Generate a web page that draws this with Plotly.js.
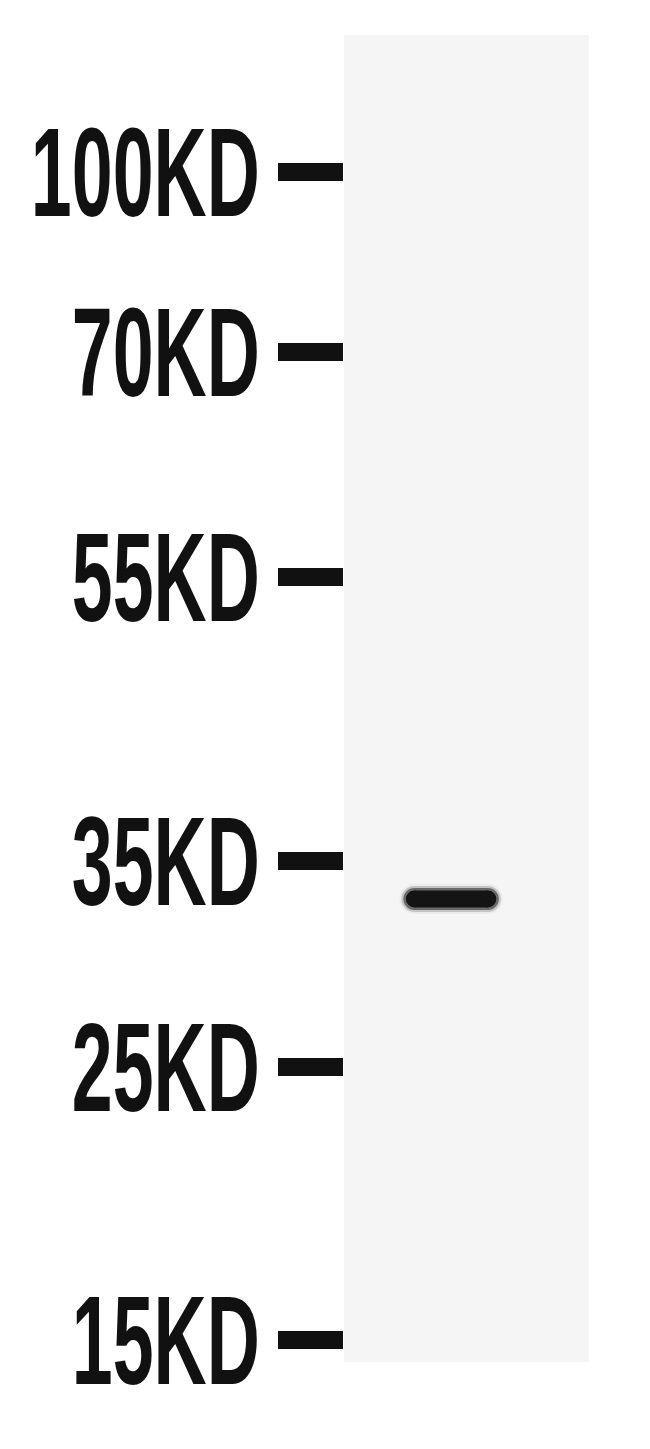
<!DOCTYPE html>
<html>
<head>
<meta charset="utf-8">
<script src="https://cdn.plot.ly/plotly-3.0.1.min.js"></script>
<style>
  html, body { margin: 0; padding: 0; background: #fff; }
  #gel { width: 650px; height: 1449px; }
</style>
</head>
<body>
<div id="gel"></div>
<script>
// маркер молекулярной массы: подписи и путь миграции (мм от верха геля)
const markerLabels = ['100KD', '70KD', '55KD', '35KD', '25KD', '15KD'];
const markerMigration = [17.2, 35.2, 57.7, 86.1, 106.7, 134.0];

// полосы образца: номер дорожки и путь миграции (мм)
const bandLane = [1];
const bandMigration = [89.9];

// границы дорожки геля (мм)
const laneTop = 3.5;
const laneBottom = 136.2;

const LABEL_WIDTH = 229; // ширина самой длинной подписи, px
const LABEL_SHIFT = 7; // сдвиг подписей вправо к меткам, px

// полоса = линия + круглые маркеры на концах (скруглённые края)
function bandTrace(width, color) {
  const x = [];
  const y = [];
  bandLane.forEach((lane, i) => {
    x.push(lane - 0.24, lane + 0.24, null);
    y.push(bandMigration[i], bandMigration[i], null);
  });
  return {
    x,
    y,
    type: 'scatter',
    mode: 'lines+markers',
    line: { color, width },
    marker: { color, size: width, line: { width: 0 } },
    hoverinfo: 'skip',
    showlegend: false,
  };
}

// несколько слоев - размытый край полосы
const data = [
  bandTrace(30, '#ececec'),
  bandTrace(26, '#c4c4c4'),
  bandTrace(22, '#6a6a6a'),
  bandTrace(17, '#141414'),
];

const layout = {
  width: 650,
  height: 1449,
  margin: { l: 344, r: 0, t: 0, b: 0, pad: 0 },
  paper_bgcolor: '#fff',
  plot_bgcolor: '#fff',
  showlegend: false,
  xaxis: {
    range: [0.3, 2.3],
    visible: false,
    fixedrange: true,
  },
  yaxis: {
    range: [144.9, 0], // ось перевернута: верх геля сверху
    showgrid: false,
    zeroline: false,
    showline: false,
    automargin: false,
    tickmode: 'array',
    tickvals: markerMigration,
    ticktext: markerLabels,
    ticks: 'outside',
    ticklen: 65,
    tickwidth: 18,
    tickcolor: '#111',
    tickfont: {
      family: 'Liberation Sans Narrow, Arial Narrow, Liberation Sans, sans-serif',
      size: 126,
      weight: 'bold',
      color: '#111',
    },
  },
  shapes: [
    {
      type: 'rect',
      xref: 'x',
      yref: 'y',
      x0: 0.3,
      x1: 1.9,
      y0: laneTop,
      y1: laneBottom,
      fillcolor: '#f5f5f5',
      line: { width: 0 },
      layer: 'below',
    },
  ],
};

Plotly.newPlot('gel', data, layout, { staticPlot: true }).then((gd) => {
  // подписи на геле узкие - сжимаем текст по горизонтали от правого края
  const labels = gd.querySelectorAll('.ytick text');
  let widest = 0;
  labels.forEach((el) => {
    widest = Math.max(widest, el.getBBox().width);
  });
  const s = LABEL_WIDTH / widest;
  labels.forEach((el) => {
    const x = parseFloat(el.getAttribute('x')) || 0;
    const t = el.getAttribute('transform') || '';
    el.setAttribute(
      'transform',
      `${t} translate(${x + LABEL_SHIFT},0) scale(${s},1) translate(${-x},0)`
    );
  });
});
</script>
</body>
</html>
